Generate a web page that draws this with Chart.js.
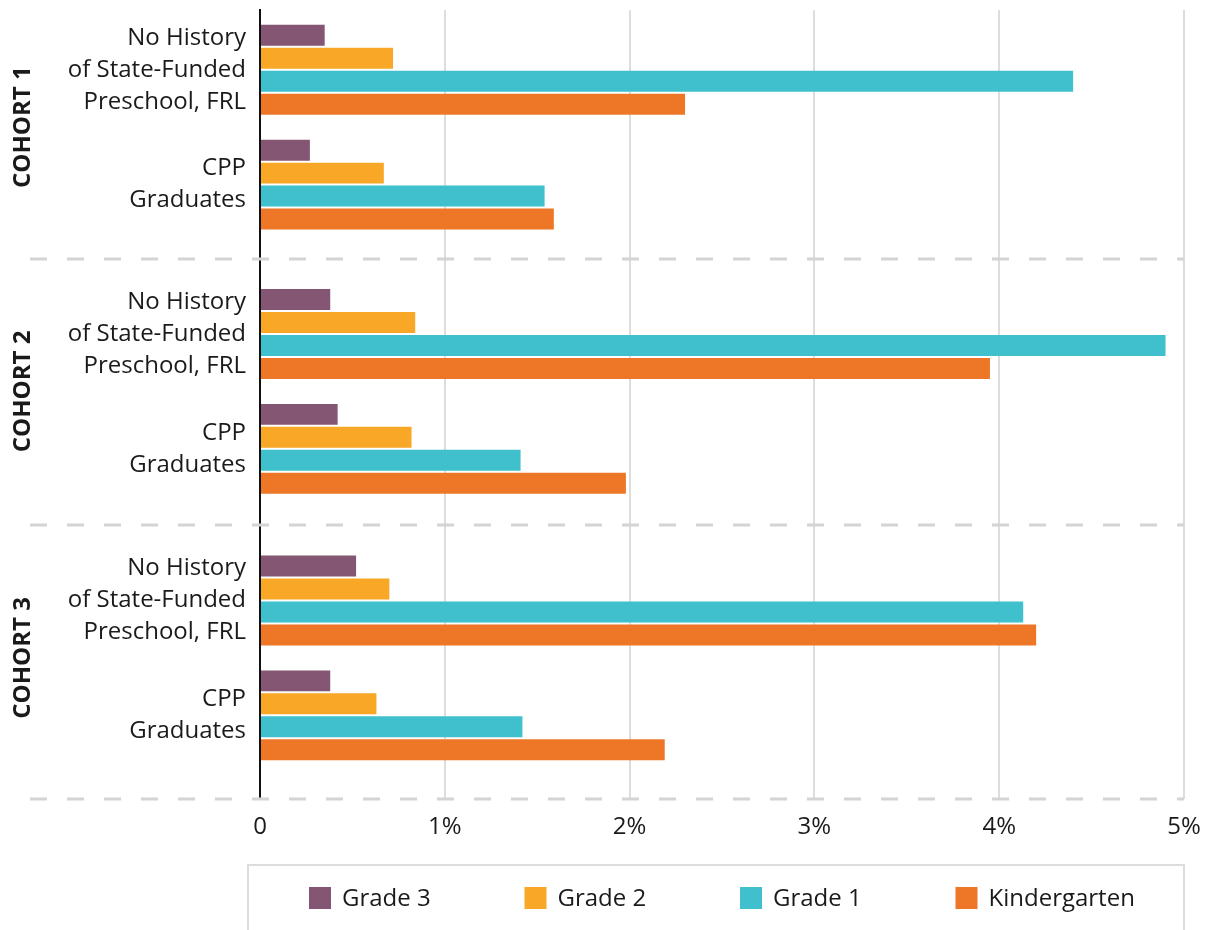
<!DOCTYPE html>
<html>
<head>
<meta charset="utf-8">
<script src="https://cdn.jsdelivr.net/npm/chart.js@4.4.1/dist/chart.umd.min.js"></script>
<style>
  html, body { margin: 0; padding: 0; background: #fff; }
</style>
</head>
<body>
<canvas id="myChart" width="1206" height="930"></canvas>
<script>
// Categories (two groups per cohort) and their place on the y axis
const categories = [
    ['No History', 'of State-Funded', 'Preschool, FRL'],
    ['CPP', 'Graduates'],
    ['No History', 'of State-Funded', 'Preschool, FRL'],
    ['CPP', 'Graduates'],
    ['No History', 'of State-Funded', 'Preschool, FRL'],
    ['CPP', 'Graduates']
];
const categoryPositions = [0, 1, 2.3, 3.3, 4.62, 5.62];

const cohorts = ['COHORT 1', 'COHORT 2', 'COHORT 3'];
const cohortBounds = [1.65, 3.96, 6.35]; // separators under each cohort

// Values in percent
const grade3 = [0.35, 0.27, 0.38, 0.42, 0.52, 0.38];
const grade2 = [0.72, 0.67, 0.84, 0.82, 0.70, 0.63];
const grade1 = [4.40, 1.54, 4.90, 1.41, 4.13, 1.42];
const kindergarten = [2.30, 1.59, 3.95, 1.98, 4.20, 2.19];

const xTickLabels = ['0', '1%', '2%', '3%', '4%', '5%'];

const FONT = '"Open Sans", "DejaVu Sans", sans-serif';
const TEXT = '#1a1a1a';

function toPoints(values) {
    return values.map((v, i) => ({ x: v, y: categoryPositions[i] }));
}

const decorPlugin = {
    id: 'decor',
    beforeDatasetsDraw(chart) {
        const { ctx, chartArea, scales: { y } } = chart;
        ctx.save();
        ctx.strokeStyle = '#d4d4d4';
        ctx.lineWidth = 3;
        ctx.setLineDash([17, 20]);
        cohortBounds.forEach(b => {
            const py = Math.round(y.getPixelForValue(b));
            ctx.beginPath();
            ctx.moveTo(30, py);
            ctx.lineTo(chartArea.right, py);
            ctx.stroke();
        });
        ctx.restore();
    },
    afterDraw(chart) {
        const { ctx, chartArea, scales: { y } } = chart;

        // cohort labels, rotated
        ctx.save();
        ctx.fillStyle = TEXT;
        ctx.font = 'bold 24px ' + FONT;
        ctx.textAlign = 'center';
        ctx.textBaseline = 'middle';
        cohorts.forEach((name, i) => {
            const mid = (categoryPositions[i * 2] + categoryPositions[i * 2 + 1]) / 2;
            const py = y.getPixelForValue(mid);
            ctx.save();
            ctx.translate(23, py);
            ctx.rotate(-Math.PI / 2);
            ctx.fillText(name, 0, 0);
            ctx.restore();
        });
        ctx.restore();

        // legend in a bordered box
        const boxLeft = chartArea.left - 12;
        const boxRight = chartArea.right;
        const boxTop = chart.height - 65;
        ctx.save();
        ctx.strokeStyle = '#dddddd';
        ctx.lineWidth = 2;
        ctx.strokeRect(boxLeft, boxTop, boxRight - boxLeft, 70);

        ctx.font = '24px ' + FONT;
        ctx.textBaseline = 'middle';
        ctx.textAlign = 'left';
        const pitch = 215.5, sw = 22, tg = 11;
        const cy = boxTop + 33;
        chart.data.datasets.forEach((ds, i) => {
            const x = boxLeft + 61 + i * pitch;
            ctx.fillStyle = ds.backgroundColor;
            ctx.fillRect(x, cy - 11, sw, sw);
            ctx.fillStyle = TEXT;
            ctx.fillText(ds.label, x + sw + tg, cy + 1);
        });
        ctx.restore();
    }
};

const ctx = document.getElementById('myChart').getContext('2d');

const myChart = new Chart(ctx, {
    type: 'bar',
    data: {
        datasets: [
            { label: 'Grade 3', data: toPoints(grade3), backgroundColor: '#845673' },
            { label: 'Grade 2', data: toPoints(grade2), backgroundColor: '#f9a726' },
            { label: 'Grade 1', data: toPoints(grade1), backgroundColor: '#3fc0cc' },
            { label: 'Kindergarten', data: toPoints(kindergarten), backgroundColor: '#ee7727' }
        ]
    },
    options: {
        indexAxis: 'y',
        responsive: false,
        animation: false,
        categoryPercentage: 0.8,
        barPercentage: 0.913,
        layout: { padding: { top: 10, right: 22, bottom: 74, left: 0 } },
        plugins: {
            legend: { display: false },
            tooltip: { enabled: false }
        },
        scales: {
            x: {
                type: 'linear',
                min: 0,
                max: 5,
                afterFit: scale => { scale.paddingLeft = 0; scale.paddingRight = 0; },
                ticks: {
                    stepSize: 1,
                    padding: 14,
                    color: TEXT,
                    font: { family: FONT, size: 24 },
                    callback: (v, i) => xTickLabels[i]
                },
                grid: {
                    drawTicks: false,
                    lineWidth: 2,
                    color: c => (c.tick && c.tick.value === 0) ? 'rgba(0,0,0,0)' : '#dddddd'
                },
                border: { display: false }
            },
            y: {
                type: 'linear',
                reverse: true,
                offset: false,
                min: -0.52,
                max: 6.35,
                z: 1,
                afterBuildTicks: scale => {
                    scale.ticks = categoryPositions.map(v => ({ value: v }));
                },
                afterFit: scale => {
                    scale.width = 260;
                    scale.paddingTop = 0;
                    scale.paddingBottom = 0;
                },
                ticks: {
                    padding: 14,
                    color: TEXT,
                    font: { family: FONT, size: 24, lineHeight: 1.333 },
                    callback: (v, i) => categories[i]
                },
                grid: { display: false, drawTicks: false, offset: false },
                border: { display: true, color: '#111111', width: 2 }
            }
        }
    },
    plugins: [decorPlugin]
});
</script>
</body>
</html>
